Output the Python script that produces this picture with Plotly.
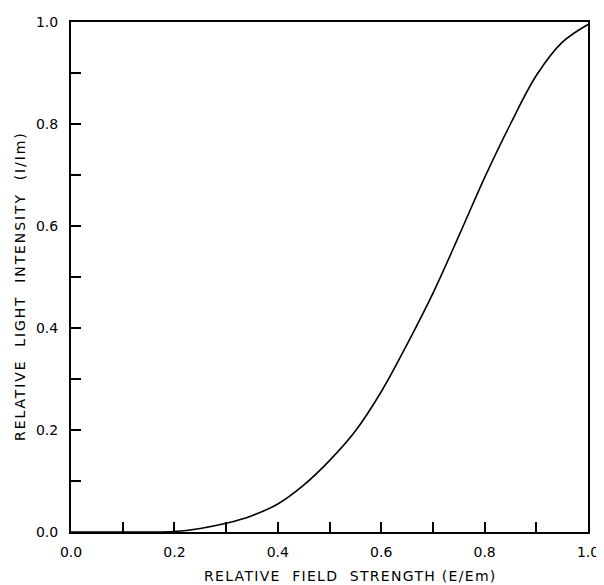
import plotly.graph_objects as go

field_strength = [0.0, 0.05, 0.1, 0.15, 0.2, 0.25, 0.3, 0.35, 0.4, 0.45, 0.5,
                  0.55, 0.6, 0.65, 0.7, 0.75, 0.8, 0.85, 0.9, 0.95, 1.0]
light_intensity = [0.0, 0.0, 0.0, 0.0, 0.001, 0.007, 0.017, 0.032, 0.055, 0.092, 0.14,
                   0.198, 0.275, 0.368, 0.468, 0.58, 0.695, 0.80, 0.895, 0.96, 0.995]

x_ticks = [0.0, 0.1, 0.2, 0.3, 0.4, 0.5, 0.6, 0.7, 0.8, 0.9, 1.0]
x_ticklabels = ["0.0", "", "0.2", "", "0.4", "", "0.6", "", "0.8", "", "1.0"]
y_ticks = [0.0, 0.1, 0.2, 0.3, 0.4, 0.5, 0.6, 0.7, 0.8, 0.9, 1.0]
y_ticklabels = ["0.0", "", "0.2", "", "0.4", "", "0.6", "", "0.8", "", "1.0"]
x_title = "RELATIVE  FIELD  STRENGTH (E/Em)"
y_title = "RELATIVE  LIGHT  INTENSITY  (I/Im)"

fig = go.Figure()
fig.add_trace(go.Scatter(
    x=field_strength, y=light_intensity, mode="lines",
    line=dict(color="black", width=1.6, shape="spline", smoothing=1.0),
    showlegend=False, hoverinfo="skip"))

font_family = "DejaVu Sans, sans-serif"
axis_common = dict(
    showgrid=False, zeroline=False, automargin=False,
    showline=True, linecolor="black", linewidth=2, mirror=True,
    ticks="inside", ticklen=10, tickwidth=1.6, tickcolor="black",
    tickfont=dict(family=font_family, size=14, color="black"),
)

fig.update_xaxes(range=[0, 1], tickvals=x_ticks, ticktext=x_ticklabels,
                 ticklabelstandoff=6, **axis_common)
fig.update_yaxes(range=[0, 1], tickvals=y_ticks, ticktext=y_ticklabels,
                 ticklabelstandoff=8, **axis_common)

title_font = dict(family=font_family, size=14, color="black")
fig.add_annotation(text='<span style="letter-spacing:1.3px">' + x_title + '</span>',
                   xref="paper", yref="paper", x=0.54, y=-0.086,
                   xanchor="center", yanchor="middle", showarrow=False, font=title_font)
fig.add_annotation(text='<span style="letter-spacing:1.9px">' + y_title + '</span>',
                   xref="paper", yref="paper", x=-0.099, y=0.482,
                   xanchor="center", yanchor="middle", textangle=-90,
                   showarrow=False, font=title_font)

fig.update_layout(
    width=596, height=577,
    margin=dict(l=63, r=16, t=14, b=53),
    paper_bgcolor="white", plot_bgcolor="white",
)

fig.write_html("out.html")
